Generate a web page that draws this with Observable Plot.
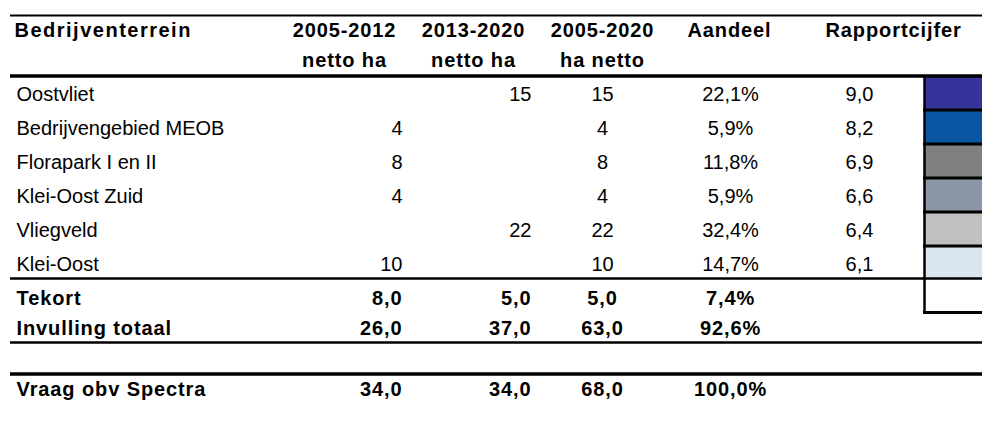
<!DOCTYPE html>
<html><head><meta charset="utf-8">
<script src="https://cdn.jsdelivr.net/npm/d3@7"></script>
<script src="https://cdn.jsdelivr.net/npm/@observablehq/plot@0.6"></script>
<style>body{margin:0;background:#fff} svg{display:block}</style>
</head><body><div id="chart"></div>
<script>
// ---- data ----
const terreinen = ["Oostvliet","Bedrijvengebied MEOB","Florapark I en II","Klei-Oost Zuid","Vliegveld","Klei-Oost"];
const ha2005_2012 = [null,4,8,4,null,10];
const ha2013_2020 = [15,null,null,null,22,null];
const ha2005_2020 = [15,4,8,4,22,10];
const aandeel = [22.1,5.9,11.8,5.9,32.4,14.7];
const rapportcijfer = [9.0,8.2,6.9,6.6,6.4,6.1];
const cijferKleuren = ["#36339a","#0a55a1","#808080","#8b96a6","#c0c0c0","#dbe5f2"];
const totaalLabels = ["Tekort","Invulling totaal","Vraag obv Spectra"];
const totaal2005_2012 = [8.0,26.0,34.0];
const totaal2013_2020 = [5.0,37.0,34.0];
const totaal2005_2020 = [5.0,63.0,68.0];
const totaalAandeel = [7.4,92.6,100.0];
const kop1 = ["Bedrijventerrein","2005-2012","2013-2020","2005-2020","Aandeel","Rapportcijfer"];
const kop2 = ["","netto ha","netto ha","ha netto","",""];

// ---- layout ----
const W = 982, H = 423, FS = 20;
const valCols = [{x:16,a:"start"},{x:402,a:"end"},{x:531,a:"end"},{x:602,a:"middle"},{x:730,a:"middle"},{x:859,a:"middle"}];
const headCols = [{x:14,a:"start"},{x:344,a:"middle"},{x:473,a:"middle"},{x:602,a:"middle"},{x:729,a:"middle"},{x:825,a:"start"}];
const rowTop = i => 75.5 + 34 * i;
const rowText = i => 94.5 + 34 * i;
const totText = [298.5, 327.6, 388.6];
const headText = [29.6, 59.6];
const swX1 = 925, swX2 = 982;

const comma = (v, d) => v == null ? "" : v.toFixed(d).replace(".", ",");
const cells = [];
kop1.forEach((t, c) => cells.push({t, x: headCols[c].x, y: headText[0], a: headCols[c].a, b: true}));
kop2.forEach((t, c) => t && cells.push({t, x: headCols[c].x, y: headText[1], a: headCols[c].a, b: true}));
terreinen.forEach((name, i) => {
  const vals = [name, ha2005_2012[i] == null ? "" : String(ha2005_2012[i]), ha2013_2020[i] == null ? "" : String(ha2013_2020[i]),
    String(ha2005_2020[i]), comma(aandeel[i], 1) + "%", comma(rapportcijfer[i], 1)];
  vals.forEach((t, c) => t && cells.push({t, x: valCols[c].x, y: rowText(i), a: valCols[c].a, b: false}));
});
totaalLabels.forEach((name, i) => {
  const vals = [name, comma(totaal2005_2012[i], 1), comma(totaal2013_2020[i], 1), comma(totaal2005_2020[i], 1), comma(totaalAandeel[i], 1) + "%"];
  vals.forEach((t, c) => cells.push({t, x: valCols[c].x, y: totText[i], a: valCols[c].a, b: true}));
});

const textMarks = [];
for (const a of ["start", "middle", "end"]) for (const b of [false, true]) {
  const sub = cells.filter(d => d.a === a && d.b === b);
  if (sub.length) textMarks.push(Plot.text(sub, {x: "x", y: "y", text: "t", textAnchor: a, fontWeight: b ? "bold" : "normal", fill: "#000", fontSize: FS}));
}

const hRules = [{y:15,w:2},{y:75.5,w:3.5},{y:278,w:2.5},{y:342,w:2.5},{y:373.5,w:3.5}];
const swatchSeps = [1,2,3,4,5].map(i => ({y: rowTop(i)})).concat([{y: 312}]);

const plot = Plot.plot({
  width: W, height: H, margin: 0,
  x: {type: "linear", domain: [0, W], range: [0, W], axis: null},
  y: {type: "linear", domain: [0, H], range: [0, H], axis: null},
  color: {type: "ordinal", domain: terreinen, range: cijferKleuren},
  style: {fontFamily: "'Liberation Sans', Arial, sans-serif", background: "#fff"},
  marks: [
    Plot.rect(terreinen, {x1: swX1, x2: swX2, y1: (d, i) => rowTop(i), y2: (d, i) => rowTop(i + 1), fill: d => d}),
    Plot.ruleY(hRules, {y: "y", x1: 10, x2: W, stroke: "#000", strokeWidth: d => d.w}),
    Plot.ruleY(swatchSeps, {y: "y", x1: 923, x2: W, stroke: "#000", strokeWidth: 3}),
    Plot.ruleX([924], {y1: 75.5, y2: 313, stroke: "#000", strokeWidth: 2.5}),
    ...textMarks
  ]
});
const svg = d3.select(plot);
svg.selectAll("g[font-weight=bold]").attr("letter-spacing", 0.9);
svg.selectAll("g[font-weight=normal]").attr("letter-spacing", 0);
svg.selectAll("text").filter(function() { return this.textContent === "Bedrijventerrein"; }).attr("letter-spacing", 1.5);
document.getElementById("chart").appendChild(plot);
</script></body></html>
